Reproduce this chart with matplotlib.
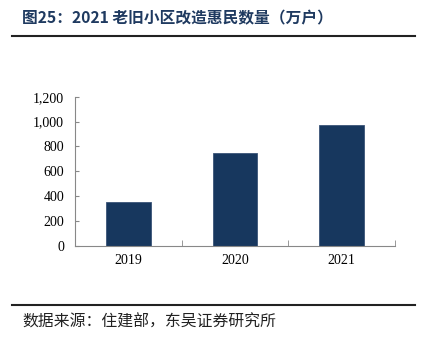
import matplotlib
matplotlib.use("Agg")
import matplotlib.pyplot as plt
from matplotlib.lines import Line2D

years = ["2019", "2020", "2021"]
households = [356, 745, 975]
y_ticks = [0, 200, 400, 600, 800, 1000, 1200]
y_tick_labels = ["0", "200", "400", "600", "800", "1,000", "1,200"]

title_text = "图25：2021 老旧小区改造惠民数量（万户）"
source_text = "数据来源：住建部，东吴证券研究所"

W, H = 423, 342
fig = plt.figure(figsize=(W / 100, H / 100), dpi=100)

ax = fig.add_axes([75.3 / W, 1 - 246 / H, (394.5 - 75.3) / W, (246 - 96.7) / H])
x = range(len(years))
ax.bar(x, households, width=0.42, color="#17375E", edgecolor="#3A5478", linewidth=0.6)
ax.set_xlim(-0.5, 2.5)
ax.set_ylim(0, 1200)
ax.set_yticks(y_ticks)
ax.set_yticklabels(y_tick_labels)
ax.set_xticks(list(x))
ax.set_xticklabels(years)
ax.set_xticks([0.5, 1.5, 2.5], minor=True)
ax.tick_params(axis="x", which="major", length=0, pad=6)
ax.tick_params(axis="x", which="minor", direction="in", length=4, color="#888888")
ax.tick_params(axis="y", direction="in", length=3, color="#888888", pad=8)
for lab in ax.get_xticklabels() + ax.get_yticklabels():
    lab.set_fontfamily("Liberation Serif")
    lab.set_fontsize(10)
for s in ["top", "right"]:
    ax.spines[s].set_visible(False)
for s in ["left", "bottom"]:
    ax.spines[s].set_color("#888888")
    ax.spines[s].set_linewidth(0.8)

fig.text(22 / W, 1 - 18 / H, title_text, fontsize=11.3, fontweight="bold", color="#1F3A60",
         family=["Noto Sans CJK SC", "DejaVu Sans"], va="center", ha="left")
fig.add_artist(Line2D([12 / W, 415 / W], [1 - 36 / H, 1 - 36 / H], color="#222222", linewidth=1.5))
fig.add_artist(Line2D([12 / W, 415 / W], [1 - 305 / H, 1 - 305 / H], color="#222222", linewidth=1.5))
fig.text(22 / W, 1 - 322 / H, source_text, fontsize=11.4, color="#222222",
         family=["Noto Sans CJK SC", "DejaVu Sans"], va="center", ha="left")

fig.savefig("out.png", dpi=100)
